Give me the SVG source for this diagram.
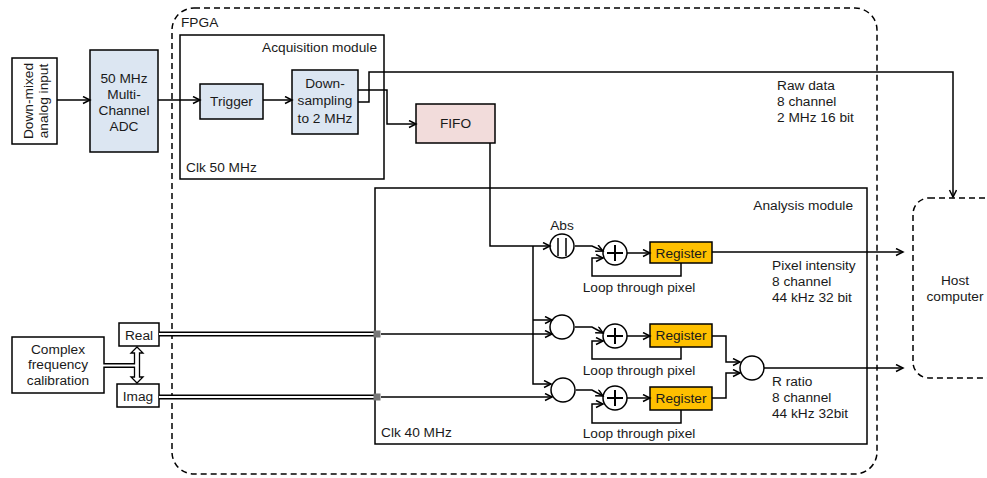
<svg xmlns="http://www.w3.org/2000/svg" width="987" height="478" viewBox="0 0 987 478">
<defs>
<style>
text{font-family:"Liberation Sans",Arial,sans-serif;font-size:13.7px;fill:#1a1a1a}
.c{text-anchor:middle}
.e{text-anchor:end}
.box{fill:#fff;stroke:#000;stroke-width:1.5}
.blue{fill:#dce6f2;stroke:#000;stroke-width:1.5}
.pink{fill:#f2dcdb;stroke:#000;stroke-width:1.5}
.reg{fill:#ffc000;stroke:#000;stroke-width:1.5}
.ln{fill:none;stroke:#000;stroke-width:1.5}
.ar{fill:none;stroke:#000;stroke-width:1.5;marker-end:url(#ah)}
.dash{fill:none;stroke:#000;stroke-width:1.5;stroke-dasharray:6 4}
.dblo{stroke:#000;stroke-width:5}
.dbli{stroke:#fff;stroke-width:2}
.sym{fill:none;stroke:#000;stroke-width:2}
</style>
<marker id="ah" markerWidth="10" markerHeight="10" refX="8" refY="4" orient="auto" markerUnits="userSpaceOnUse">
<path d="M1,0.5 L8,4 L1,7.5" fill="none" stroke="#000" stroke-width="1.5"/>
</marker>
</defs>
<rect width="987" height="478" fill="#fff"/>

<g id="fpga">
<rect x="172" y="8" width="705" height="466" rx="22" class="dash"/>
<text x="181" y="27">FPGA</text>
</g>

<g id="acquisition-module">
<rect x="180" y="35" width="204" height="144" class="box" fill="none"/>
<text x="377" y="52" class="e">Acquisition module</text>
<text x="186" y="172">Clk 50 MHz</text>
</g>

<g id="analysis-module">
<rect x="375" y="188" width="492" height="256" class="box"/>
<text x="853" y="210" class="e">Analysis module</text>
<text x="381" y="437">Clk 40 MHz</text>
</g>

<g id="host">
<rect x="913" y="198" width="100" height="180" rx="16" class="dash"/>
<text x="955" y="285" class="c">Host</text>
<text x="955" y="301" class="c">computer</text>
</g>

<g id="input">
<rect x="12" y="58" width="45" height="86" class="box"/>
<text transform="translate(33,101) rotate(-90)" class="c">Down-mixed</text>
<text transform="translate(48,101) rotate(-90)" class="c">analog input</text>
</g>

<g id="adc">
<rect x="90" y="50" width="68" height="102" class="blue"/>
<text x="124" y="83" class="c">50 MHz</text>
<text x="124" y="99" class="c">Multi-</text>
<text x="124" y="115" class="c">Channel</text>
<text x="124" y="131" class="c">ADC</text>
</g>

<g id="trigger">
<rect x="200" y="84" width="63" height="35" class="blue"/>
<text x="231.5" y="106" class="c">Trigger</text>
</g>

<g id="downsampling">
<rect x="292" y="70" width="66" height="64" class="blue"/>
<text x="325" y="88" class="c">Down-</text>
<text x="325" y="105" class="c">sampling</text>
<text x="325" y="123" class="c">to 2 MHz</text>
</g>

<g id="fifo">
<rect x="416" y="104" width="79" height="39" class="pink"/>
<text x="455.5" y="128" class="c">FIFO</text>
</g>

<g id="calibration">
<rect x="12" y="337" width="92" height="56" class="box"/>
<text x="58" y="354" class="c">Complex</text>
<text x="58" y="369" class="c">frequency</text>
<text x="58" y="385" class="c">calibration</text>
</g>

<g id="real">
<rect x="119" y="323" width="40" height="23" class="box"/>
<text x="139" y="340" class="c">Real</text>
</g>

<g id="imag">
<rect x="117" y="384" width="42" height="23" class="box"/>
<text x="138" y="401" class="c">Imag</text>
</g>

<g id="abs">
<circle cx="562" cy="246" r="12" class="box"/>
<line x1="558" y1="238" x2="558" y2="256" class="ln"/>
<line x1="566" y1="238" x2="566" y2="256" class="ln"/>
<text x="562" y="230" class="c">Abs</text>
</g>
<g id="mult-real"><circle cx="562" cy="327" r="12" class="box"/></g>
<g id="mult-imag"><circle cx="563" cy="390" r="12" class="box"/></g>
<g id="ratio"><circle cx="752" cy="368" r="12" class="box"/></g>

<g id="sum1">
<circle cx="615" cy="253" r="12" class="box"/>
<path d="M607,253 H623 M615,245 V261" class="sym"/>
</g>
<g id="sum2">
<circle cx="615" cy="336" r="12" class="box"/>
<path d="M607,336 H623 M615,328 V344" class="sym"/>
</g>
<g id="sum3">
<circle cx="615" cy="398" r="12" class="box"/>
<path d="M607,398 H623 M615,390 V406" class="sym"/>
</g>

<g id="register1">
<rect x="650" y="242" width="62" height="21" class="reg"/>
<text x="681" y="258" class="c">Register</text>
</g>
<g id="register2">
<rect x="650" y="324" width="62" height="23" class="reg"/>
<text x="681" y="340" class="c">Register</text>
</g>
<g id="register3">
<rect x="650" y="387" width="62" height="23" class="reg"/>
<text x="681" y="403" class="c">Register</text>
</g>

<g id="connectors">
<line x1="57" y1="100" x2="90" y2="100" class="ar"/>
<line x1="158" y1="100" x2="200" y2="100" class="ar"/>
<line x1="263" y1="100" x2="292" y2="100" class="ar"/>
<polyline points="358,90 387,90 387,124 416,124" class="ar"/>
<polyline points="358,102 369,102 369,72 953,72 953,197" class="ar"/>
<polyline points="490,143 490,246 550,246" class="ar"/>
<polyline points="533,246 533,384 551,384" class="ar"/>
<line x1="533" y1="320" x2="552" y2="320" class="ar"/>
<polyline points="575,246 592,246 603,251" class="ar"/>
<polyline points="575,327 592,327 603,333" class="ar"/>
<polyline points="576,390 592,390 603,396" class="ar"/>
<line x1="627" y1="253" x2="650" y2="253" class="ar"/>
<line x1="627" y1="336" x2="650" y2="336" class="ar"/>
<line x1="627" y1="398" x2="650" y2="398" class="ar"/>
<polyline points="681,263 681,276 592,276 592,258 603,258" class="ar"/>
<polyline points="681,347 681,359 592,359 592,341 603,341" class="ar"/>
<polyline points="681,410 681,423 592,423 592,404 603,404" class="ar"/>
<polyline points="712,336 726,336 726,362 740,362" class="ar"/>
<polyline points="712,398 726,398 726,373 740,373" class="ar"/>
<line x1="712" y1="252" x2="903" y2="252" class="ar"/>
<line x1="764" y1="368" x2="903" y2="368" class="ar"/>
<line x1="159" y1="334" x2="374" y2="334" class="dblo"/>
<line x1="159" y1="334" x2="374" y2="334" class="dbli"/>
<line x1="159" y1="397" x2="374" y2="397" class="dblo"/>
<line x1="159" y1="397" x2="374" y2="397" class="dbli"/>
<rect x="373.5" y="330.5" width="7" height="7" fill="#777"/>
<rect x="373.5" y="393.5" width="7" height="7" fill="#777"/>
<line x1="381" y1="334" x2="552" y2="334" class="ar"/>
<line x1="381" y1="397" x2="552" y2="397" class="ar"/>
<line x1="104" y1="365.5" x2="135" y2="365.5" class="dblo"/>
<polygon points="137,347 143,353 139.5,353 139.5,377 143,377 137,383 131,377 134.5,377 134.5,353 131,353" fill="#fff" stroke="#000" stroke-width="1.3"/>
<line x1="103" y1="365.5" x2="136.5" y2="365.5" class="dbli"/>
</g>

<g id="labels">
<text x="777" y="90">Raw data</text>
<text x="777" y="106">8 channel</text>
<text x="777" y="122">2 MHz 16 bit</text>
<text x="772" y="270">Pixel intensity</text>
<text x="772" y="286">8 channel</text>
<text x="772" y="302">44 kHz 32 bit</text>
<text x="772" y="386">R ratio</text>
<text x="772" y="402">8 channel</text>
<text x="772" y="418">44 kHz 32bit</text>
<text x="639" y="292" class="c">Loop through pixel</text>
<text x="639" y="375" class="c">Loop through pixel</text>
<text x="639" y="438" class="c">Loop through pixel</text>
</g>
</svg>
